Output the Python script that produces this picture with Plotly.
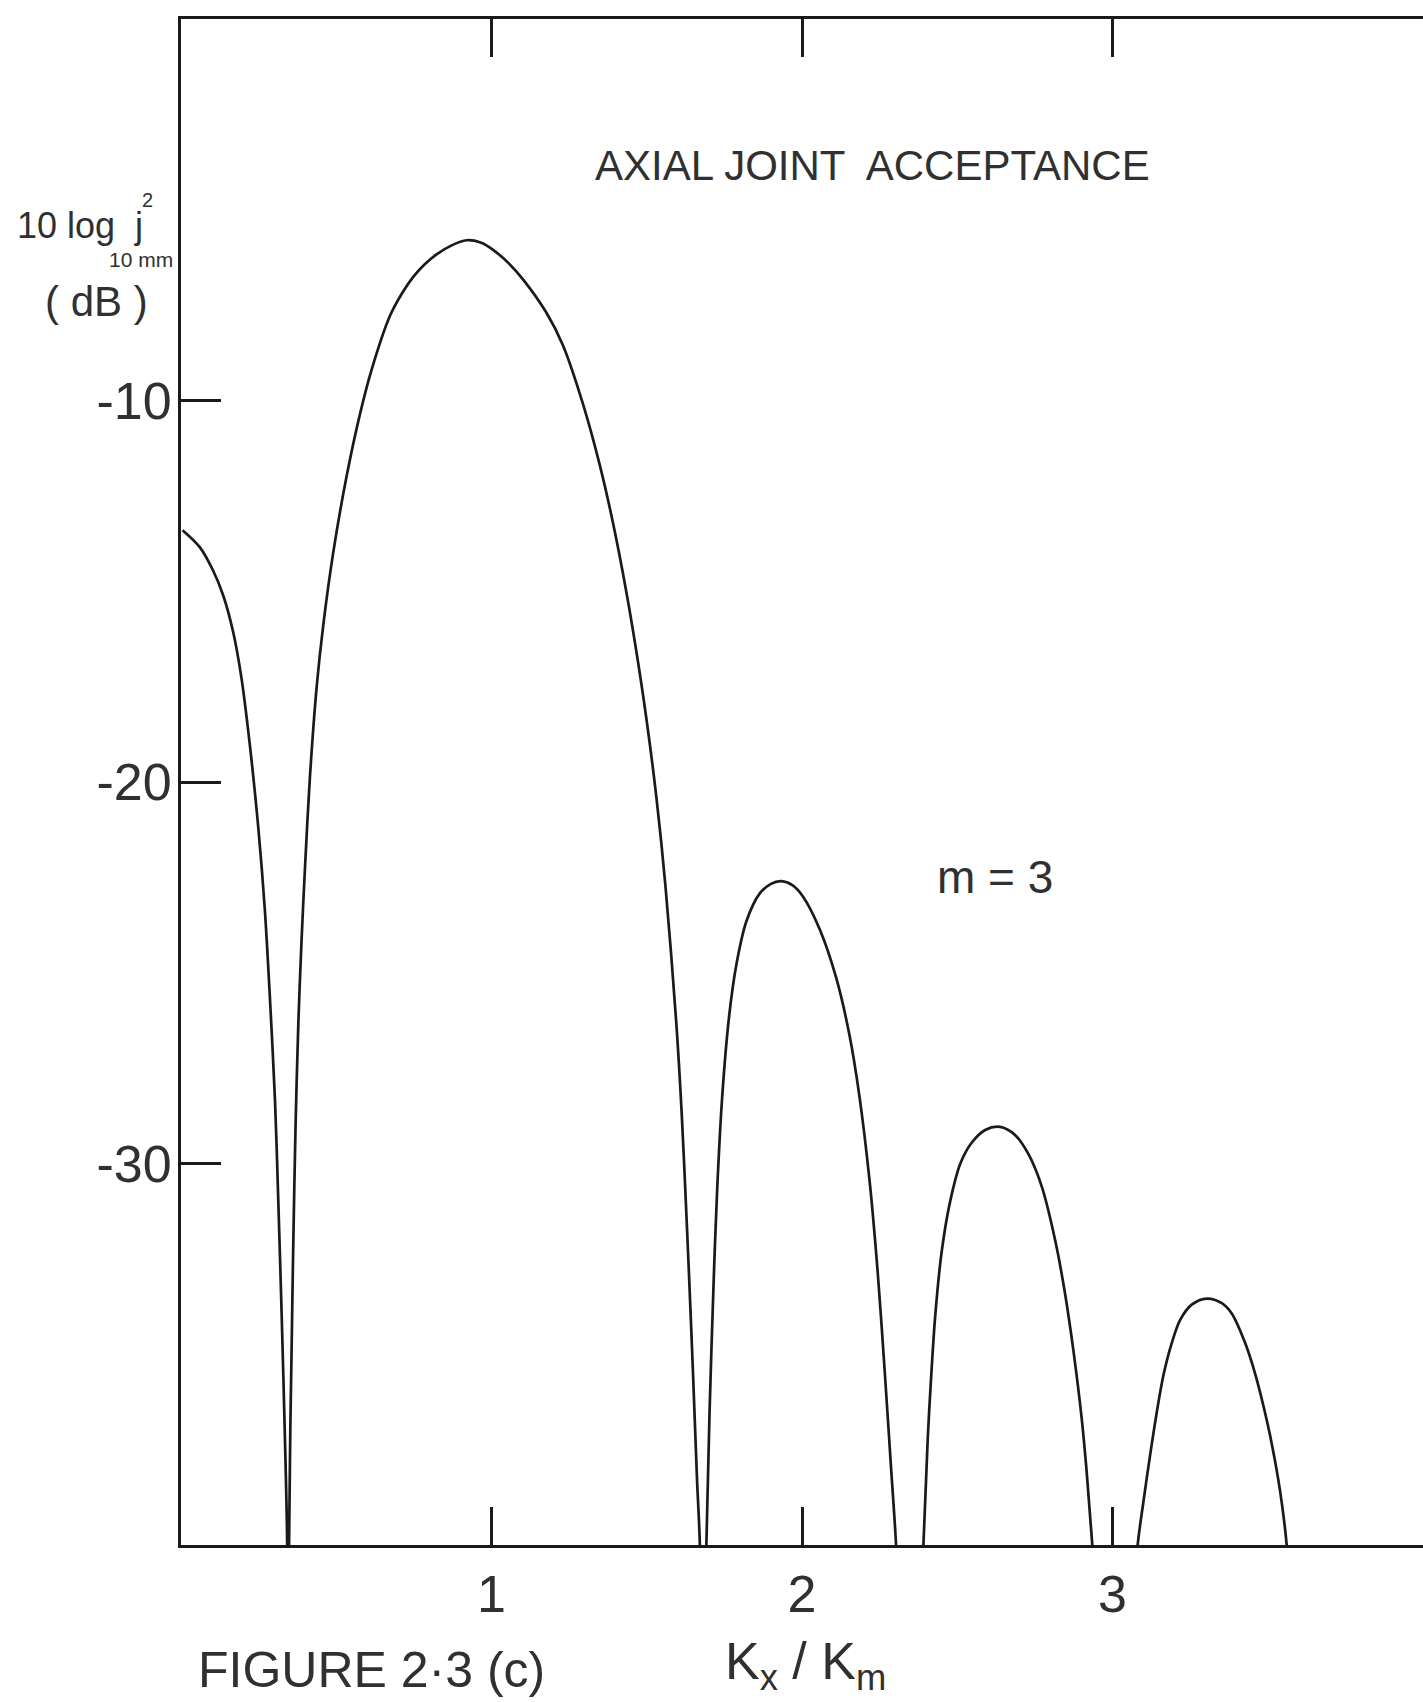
import plotly.graph_objects as go

# Axial joint acceptance for mode m = 3, level in dB against Kx/Km.
# Values below -40 dB fall off the bottom of the frame and are clipped there.
kx_km = [
    0.005, 0.061, 0.104, 0.136, 0.168, 0.195, 0.222, 0.249, 0.270, 0.286,
    0.303, 0.313, 0.324, 0.335, 0.342, 0.345, 0.348,
    0.352, 0.356, 0.361, 0.369, 0.378, 0.388, 0.399, 0.415, 0.437, 0.458,
    0.490, 0.533, 0.576, 0.614, 0.673, 0.711, 0.748, 0.785, 0.823, 0.870, 0.920,
    0.965, 1.005, 1.055, 1.102, 1.177, 1.230, 1.295, 1.349, 1.391, 1.435,
    1.467, 1.499, 1.531, 1.560, 1.595, 1.612, 1.622, 1.636, 1.649, 1.662,
    1.671, 1.682, 1.692,
    1.702, 1.716, 1.727, 1.743, 1.765, 1.789, 1.821, 1.864, 1.900, 1.933,
    1.970, 2.003, 2.057, 2.110, 2.153, 2.185, 2.218, 2.244, 2.266, 2.287,
    2.303, 2.346, 2.391,
    2.405, 2.413, 2.429, 2.450, 2.477, 2.510, 2.547, 2.590, 2.638, 2.686,
    2.729, 2.772, 2.815, 2.847, 2.874, 2.901, 2.917, 2.935, 3.005, 3.081,
    3.099, 3.121, 3.143, 3.164, 3.191, 3.218, 3.255, 3.304, 3.352, 3.384,
    3.427, 3.459, 3.486, 3.513, 3.540, 3.561, 3.620,
]
level_db = [
    -13.40, -13.85, -14.47, -15.11, -16.07, -17.29, -19.05, -21.20, -23.35, -25.60,
    -28.40, -30.90, -33.90, -37.30, -40.00, -48.00, -40.00,
    -37.00, -35.00, -32.40, -29.00, -26.30, -24.20, -22.30, -19.90, -17.50, -15.90,
    -14.00, -12.00, -10.37, -9.19, -7.78, -7.20, -6.76, -6.43, -6.17, -5.94, -5.80,
    -5.86, -6.05, -6.40, -6.83, -7.70, -8.55, -10.10, -11.70, -13.20, -15.05,
    -16.60, -18.35, -20.40, -22.70, -26.30, -28.60, -30.30, -32.90, -35.50, -38.30,
    -40.00, -48.00, -40.00,
    -36.60, -32.96, -30.65, -28.25, -26.16, -24.77, -23.65, -22.92, -22.67, -22.60,
    -22.71, -23.00, -23.86, -25.13, -26.64, -28.24, -30.48, -32.87, -35.40, -38.00,
    -40.00, -48.00, -40.00,
    -37.20, -36.00, -34.00, -32.30, -31.00, -30.00, -29.45, -29.12, -29.04, -29.25,
    -29.75, -30.60, -32.00, -33.40, -34.90, -36.70, -38.10, -40.00, -48.00, -40.00,
    -38.90, -37.65, -36.50, -35.55, -34.70, -34.10, -33.70, -33.54, -33.66, -33.93,
    -34.70, -35.50, -36.35, -37.35, -38.60, -40.00, -48.00,
]

x_ticks = [1, 2, 3]
x_tick_labels = ["1", "2", "3"]
y_ticks = [-10, -20, -30]
y_tick_labels = ["-10", "-20", "-30"]

INK = "#1a1a1a"
TEXT = "#303030"
FONT = "Liberation Sans Narrow, Liberation Sans, Arial, sans-serif"

fig = go.Figure()
fig.add_trace(go.Scatter(
    x=kx_km, y=level_db, mode="lines",
    line=dict(color=INK, width=2.7, shape="spline", smoothing=0.9),
    showlegend=False, hoverinfo="skip",
))

axis_common = dict(
    showgrid=False, zeroline=False,
    ticks="inside", tickwidth=2.5, tickcolor=INK,
)

fig.update_layout(
    width=1423, height=1702,
    margin=dict(l=181, r=0, t=19, b=157),
    paper_bgcolor="white", plot_bgcolor="white",
    xaxis=dict(
        range=[0, 4.0], tickvals=x_ticks, ticktext=x_tick_labels,
        ticklen=38, showline=True, linecolor=INK, linewidth=3,
        mirror="ticks",
        tickfont=dict(family=FONT, size=52, color=TEXT),
        ticklabelstandoff=2,
        **axis_common,
    ),
    yaxis=dict(
        range=[-40, 0], tickvals=y_ticks, ticktext=y_tick_labels,
        ticklen=40, showline=True, linecolor=INK, linewidth=3,
        tickfont=dict(family=FONT, size=52, color=TEXT),
        ticklabelstandoff=-4,
        **axis_common,
    ),
    yaxis2=dict(
        range=[-40, 0], overlaying="y", side="right", anchor="x",
        tickvals=y_ticks, ticklen=39, showticklabels=False, showline=False,
        **axis_common,
    ),
)

def note(text, x, y, size, xanchor="center", yanchor="middle"):
    fig.add_annotation(
        text=text, x=x, y=y, xref="paper", yref="paper",
        xanchor=xanchor, yanchor=yanchor, showarrow=False,
        font=dict(family=FONT, size=size, color=TEXT),
    )

note("AXIAL JOINT  ACCEPTANCE", 0.5564, 0.9037, 42)
note("10 log  j", -0.1337, 0.8648, 36, xanchor="left")
note("2", -0.0266, 0.8814, 20)
note("10 mm", -0.0320, 0.8421, 21)
note("( dB )", -0.0684, 0.8146, 42)
note("m = 3", 0.6554, 0.4377, 46)
note("FIGURE 2·3 (c)", 0.153, -0.1016, 50, yanchor="bottom")
note("K<sub>x</sub> / K<sub>m</sub>", 0.5032, -0.1016, 52, yanchor="bottom")

fig.write_html("out.html")
